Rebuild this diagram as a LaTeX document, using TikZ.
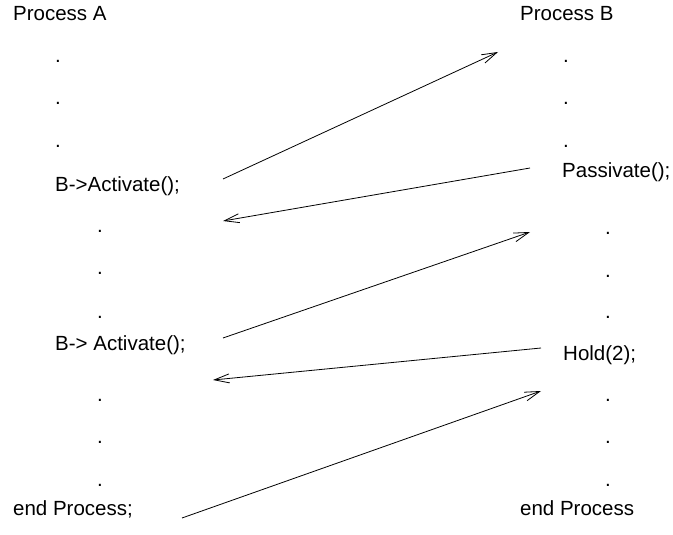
\documentclass[tikz,border=0pt]{standalone}
\usepackage{fontspec}
\setmainfont{Liberation Sans}
\usetikzlibrary{arrows.meta}
\begin{document}
\begin{tikzpicture}[x=1pt,y=-1pt,
  txt/.style={anchor=base west,inner sep=0pt,font=\fontsize{20.5}{24}\selectfont},
  dotn/.style={txt},
  msg/.style={line width=0.8pt,-{Straight Barb[length=15pt,width=9pt,line width=0.8pt]}}]
\useasboundingbox (0,0) rectangle (673,535);

% Process A column
\node[txt] (pa) at (13,21) {Process A};
\node[dotn] (ad1) at (55,63) {.};
\node[dotn] (ad2) at (55,105) {.};
\node[dotn] (ad3) at (55,147) {.};
\node[txt] (act1) at (55,191) {B->Activate();};
\node[dotn] (ad4) at (97,232) {.};
\node[dotn] (ad5) at (97,274) {.};
\node[dotn] (ad6) at (97,318) {.};
\node[txt] (act2) at (55,350) {B-> Activate();};
\node[dotn] (ad7) at (97,401) {.};
\node[dotn] (ad8) at (97,443) {.};
\node[dotn] (ad9) at (97,486) {.};
\node[txt] (enda) at (13,515) {end Process;};

% Process B column
\node[txt] (pb) at (520,21) {Process B};
\node[dotn] (bd1) at (563,63) {.};
\node[dotn] (bd2) at (563,105) {.};
\node[dotn] (bd3) at (563,148) {.};
\node[txt] (pas) at (562,178) {Passivate();};
\node[dotn] (bd4) at (605,234) {.};
\node[dotn] (bd5) at (605,277) {.};
\node[dotn] (bd6) at (605,318) {.};
\node[txt] (hold) at (563,360) {Hold(2);};
\node[dotn] (bd7) at (605,401) {.};
\node[dotn] (bd8) at (605,443) {.};
\node[dotn] (bd9) at (605,486) {.};
\node[txt] (endb) at (520,515) {end Process};

% message end points
\coordinate (m1s) at (223,179);
\coordinate (m1e) at (498,52);
\coordinate (m2s) at (530,168);
\coordinate (m2e) at (223,221);
\coordinate (m3s) at (223,338);
\coordinate (m3e) at (530,232);
\coordinate (m4s) at (541,348);
\coordinate (m4e) at (213,380);
\coordinate (m5s) at (182,518);
\coordinate (m5e) at (541,391);

% control transfers between the two processes
\draw[msg] (m1s) -- (m1e);
\draw[msg] (m2s) -- (m2e);
\draw[msg] (m3s) -- (m3e);
\draw[msg] (m4s) -- (m4e);
\draw[msg] (m5s) -- (m5e);
\end{tikzpicture}
\end{document}
